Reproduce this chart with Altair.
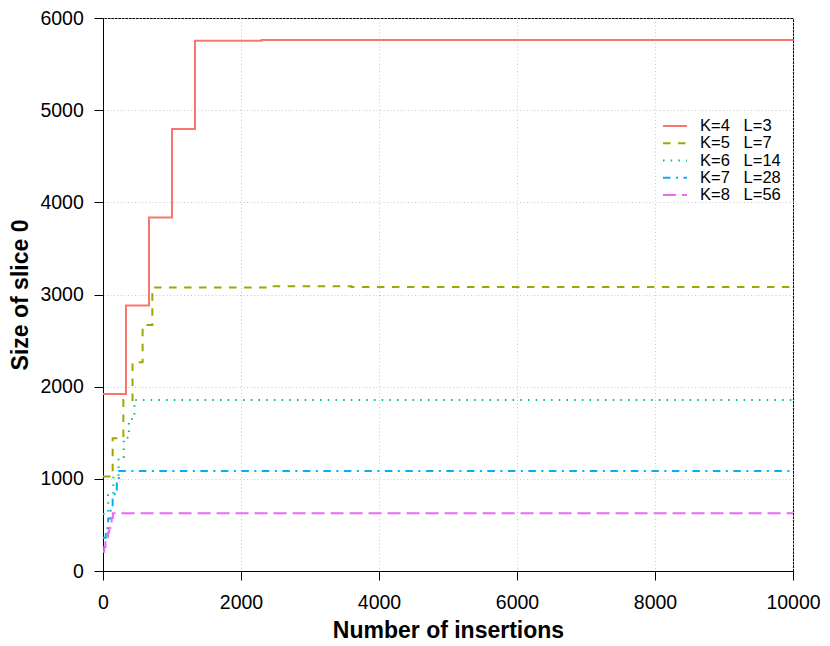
import altair as alt
import pandas as pd

# ---- data ----
labels = ["K=4\u00a0\u00a0\u00a0L=3", "K=5\u00a0\u00a0\u00a0L=7", "K=6\u00a0\u00a0\u00a0L=14",
          "K=7\u00a0\u00a0\u00a0L=28", "K=8\u00a0\u00a0\u00a0L=56"]

k4_x = [0, 333, 667, 1000, 1333, 2300, 10000]
k4_y = [1920, 2880, 3835, 4795, 5752, 5760, 5760]

k5_x = [0, 140, 295, 428, 574, 715, 2400, 3600, 10000]
k5_y = [1025, 1440, 1855, 2265, 2670, 3075, 3090, 3082, 3082]

k6_x = [0, 75, 150, 225, 300, 375, 455, 10000]
k6_y = [618, 825, 1030, 1238, 1445, 1650, 1855, 1855]

k7_x = [0, 40, 75, 110, 140, 170, 200, 230, 10000]
k7_y = [362, 465, 570, 672, 775, 880, 982, 1085, 1085]

k8_x = [0, 18, 36, 54, 72, 90, 108, 126, 143, 10000]
k8_y = [209, 261, 313, 365, 417, 469, 522, 574, 626, 626]

x_ticks = [0, 2000, 4000, 6000, 8000, 10000]
y_ticks = [0, 1000, 2000, 3000, 4000, 5000, 6000]

colors = ["#F8766D", "#A3A500", "#00BF7D", "#00B0F6", "#E76BF3"]
dashes = [[1, 0], [7.5, 7.5], [1.5, 6.2], [7.5, 5.5, 2, 5.5], [13, 6]]

rows = []
for lab, xs, ys in zip(labels, [k4_x, k5_x, k6_x, k7_x, k8_x],
                       [k4_y, k5_y, k6_y, k7_y, k8_y]):
    for i, (xv, yv) in enumerate(zip(xs, ys)):
        rows.append({"series": lab, "x": xv, "y": yv, "order": i})
df = pd.DataFrame(rows)

FONT = "Liberation Sans"

leg = alt.Legend(title=None, orient="none", legendX=559, legendY=100)

chart = alt.Chart(df).mark_line(
    interpolate="step-after", strokeWidth=2, clip=True, strokeCap="butt"
).encode(
    x=alt.X("x:Q",
            scale=alt.Scale(domain=[0, 10000], nice=False, zero=False),
            axis=alt.Axis(values=x_ticks, format="d", title="Number of insertions",
                          tickSize=9, labelPadding=28.3, labelBaseline="alphabetic",
                          labelFlush=False, labelFontSize=19.5,
                          titleFontSize=23, titleFontWeight="bold",
                          titleBaseline="alphabetic", titleX=345, titleY=66.3)),
    y=alt.Y("y:Q",
            scale=alt.Scale(domain=[0, 6000], nice=False, zero=False),
            axis=alt.Axis(values=y_ticks, format="d", title="Size of slice 0",
                          tickSize=9, labelPadding=10.7, labelFontSize=19.5,
                          titleFontSize=23, titleFontWeight="bold",
                          titleAngle=270, titleBaseline="alphabetic",
                          titleAlign="center", titleX=-76, titleY=276.5)),
    color=alt.Color("series:N",
                    scale=alt.Scale(domain=labels, range=colors),
                    legend=leg),
    strokeDash=alt.StrokeDash("series:N",
                              scale=alt.Scale(domain=labels, range=dashes),
                              legend=leg),
    order="order:Q",
).properties(
    width=690, height=553,
    autosize=alt.AutoSizeParams(type="none"),
    padding={"left": 95, "top": 10, "right": 29, "bottom": 72},
).configure(
    font=FONT,
).configure_view(
    stroke="black", strokeWidth=1,
).configure_axis(
    labelFont=FONT, titleFont=FONT, labelColor="black", titleColor="black",
    domainColor="black", domainWidth=1, tickColor="black", tickWidth=1,
    grid=True, gridColor="#c8c8c8", gridDash=[1, 2.5], gridWidth=1,
).configure_legend(
    symbolType="stroke", symbolSize=576, symbolStrokeWidth=2,
    labelFont=FONT, labelFontSize=16.5, labelColor="black", labelOffset=12,
    rowPadding=0.25, padding=0, symbolOffset=0, clipHeight=16,
)

chart.save("out.html", embed_options={"renderer": "svg", "actions": False})
